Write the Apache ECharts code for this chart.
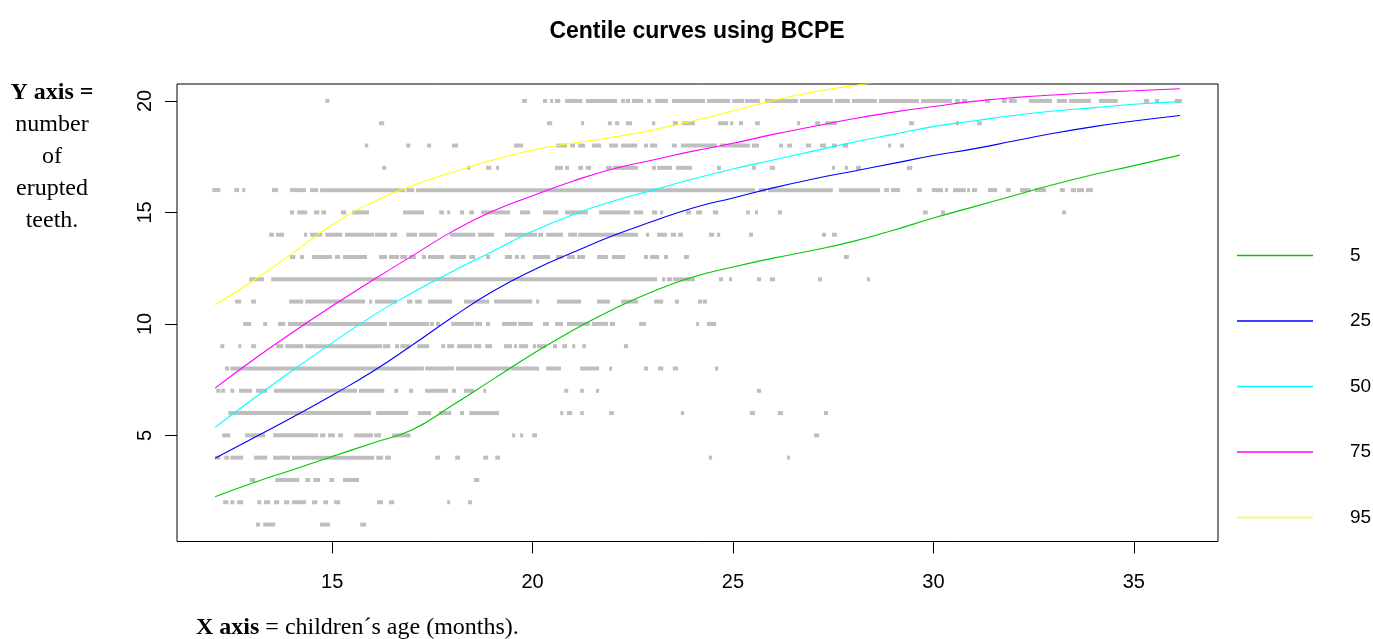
<!DOCTYPE html>
<html><head><meta charset="utf-8">
<script src="https://cdn.jsdelivr.net/npm/echarts@6/dist/echarts.min.js"></script>
<style>html,body{margin:0;padding:0;background:#fff}#c{width:1373px;height:639px}</style>
</head><body><div id="c"></div>
<script>
// ---- centile curves (age in months, number of erupted teeth) ----
const ages = [12.08,13,14,15,16,17,18,19,20,21,22,23,24,25,26,27,28,29,30,31,32,33,34,35,36.15];
const c5  = [2.25,2.85,3.45,4.05,4.65,5.25,6.35,7.5,8.65,9.7,10.65,11.45,12.1,12.55,12.95,13.3,13.7,14.2,14.75,15.25,15.75,16.25,16.7,17.1,17.57];
const c25 = [3.97,4.85,5.8,6.8,7.85,9.05,10.3,11.45,12.4,13.2,13.95,14.6,15.2,15.65,16.1,16.5,16.85,17.2,17.55,17.85,18.2,18.55,18.85,19.1,19.35];
const c50 = [5.36,6.6,7.9,9.15,10.35,11.4,12.35,13.25,14.15,14.9,15.5,16.0,16.5,16.95,17.35,17.75,18.15,18.5,18.85,19.1,19.35,19.55,19.7,19.85,19.97];
const c75 = [7.12,8.35,9.6,10.8,11.95,13.05,14.15,15.05,15.75,16.4,16.95,17.35,17.75,18.1,18.5,18.85,19.2,19.5,19.75,19.98,20.15,20.27,20.37,20.46,20.55];
const c95 = [10.86,11.9,13.15,14.45,15.45,16.2,16.8,17.35,17.8,18.1,18.37,18.7,19.1,19.55,20.02,20.4,20.68,20.95,21.2];
const centileNames = ['5','25','50','75','95'];
const centileColors = ['#00C800','#0000FF','#00FFFF','#FF00FF','#FFFF00'];
const xTicks = [15,20,25,30,35];
const yTicks = [5,10,15,20];

// ---- observed children: age ranges (months) covered by points at each tooth count ----
const seg20 = [[14.83,14.93],[19.74,19.86],[20.26,20.36],[20.44,20.51],[20.56,20.69],[20.81,21.24],[21.33,22.11],[22.21,22.31],[22.33,22.43],[22.48,22.76],[22.86,22.96],[23.06,23.38],[23.48,24.30],[24.35,24.93],[24.98,25.28],[25.30,25.67],[25.80,26.62],[26.67,27.49],[27.54,27.92],[27.97,28.59],[28.64,29.64],[29.69,30.46],[30.54,30.66],[30.71,30.84],[31.29,31.41],[31.71,31.83],[31.88,32.08],[32.38,32.96],[33.08,33.33],[33.38,33.93],[34.13,34.60],[35.25,35.38],[35.53,35.63],[36.02,36.20]];
const seg19 = [[16.17,16.30],[20.36,20.49],[21.21,21.28],[21.88,21.98],[22.06,22.16],[22.33,22.48],[22.98,23.06],[23.50,23.63],[23.73,24.05],[24.63,24.88],[24.93,25.00],[25.15,25.25],[25.55,25.67],[26.60,26.67],[27.05,27.17],[27.30,27.59],[29.39,29.52],[30.56,30.64],[31.09,31.21]];
const seg18 = [[15.82,15.90],[16.85,16.95],[17.37,17.47],[17.99,18.14],[19.54,19.76],[20.59,20.86],[20.94,21.06],[21.14,21.31],[21.48,21.71],[21.91,22.13],[22.21,22.61],[22.78,22.88],[22.93,23.11],[23.48,23.60],[23.70,24.60],[24.68,25.42],[25.47,25.65],[26.15,26.25],[26.35,26.47],[26.82,26.95],[27.17,27.32],[27.47,27.59],[27.74,27.87],[28.87,28.94],[29.17,29.27]];
const seg17 = [[16.25,16.35],[18.37,18.44],[18.84,18.97],[19.09,19.16],[20.56,20.76],[20.81,20.91],[21.14,21.26],[21.33,21.46],[21.83,21.98],[22.01,22.63],[22.98,23.08],[23.11,23.48],[23.58,23.98],[24.60,24.70],[25.47,25.57],[25.92,26.05],[27.47,27.54],[27.79,27.87],[28.07,28.19],[29.34,29.47]];
const seg16 = [[12.01,12.21],[12.56,12.68],[12.76,12.83],[13.50,13.65],[13.95,14.35],[14.45,14.65],[14.70,16.82],[16.85,17.05],[17.09,25.55],[25.65,25.82],[25.87,27.49],[27.64,28.67],[28.77,28.89],[28.94,29.17],[29.59,29.71],[29.96,30.24],[30.29,30.36],[30.49,30.81],[30.84,30.91],[30.96,31.09],[31.36,31.59],[31.81,31.93],[32.16,32.43],[32.53,32.81],[33.16,33.28],[33.43,33.56],[33.58,33.76],[33.81,33.98]];
const seg15 = [[13.95,14.05],[14.13,14.38],[14.55,14.68],[14.73,14.85],[15.22,15.35],[15.50,15.92],[16.77,17.29],[17.67,17.79],[17.87,17.94],[18.19,18.29],[18.42,18.54],[18.72,19.44],[19.69,19.94],[20.26,20.64],[20.81,21.38],[21.66,22.43],[22.53,22.76],[22.98,23.11],[23.18,23.26],[23.83,23.95],[24.08,24.23],[24.50,24.63],[25.33,25.42],[25.55,25.62],[26.12,26.22],[29.74,29.86],[30.19,30.29],[33.21,33.31]];
const seg14 = [[13.43,13.55],[13.60,13.80],[14.30,14.38],[14.45,14.75],[14.83,15.25],[15.32,16.05],[16.07,16.37],[16.45,16.62],[16.85,17.12],[17.17,17.62],[17.94,18.57],[18.64,19.04],[19.31,20.11],[20.14,20.26],[20.34,20.76],[20.89,21.11],[21.14,22.63],[22.83,22.91],[23.11,23.35],[23.45,23.58],[23.63,23.75],[24.40,24.53],[24.60,24.68],[25.40,25.50],[27.22,27.32],[27.47,27.59]];
const seg13 = [[13.95,14.08],[14.20,14.30],[14.50,15.00],[15.07,15.20],[15.27,15.87],[16.17,16.37],[16.42,16.67],[16.70,16.87],[16.92,17.09],[17.24,17.34],[17.39,17.79],[17.94,18.34],[18.42,18.57],[18.84,18.94],[19.31,19.49],[19.56,19.66],[19.71,19.81],[20.01,20.44],[20.59,20.76],[20.86,21.06],[21.11,21.31],[21.61,21.88],[21.98,22.31],[22.78,22.88],[22.93,23.16],[23.28,23.38],[23.78,23.90],[27.77,27.89]];
const seg12 = [[12.93,13.30],[13.48,23.11],[23.23,23.31],[23.35,23.48],[23.50,24.05],[24.65,24.75],[24.90,24.98],[25.60,25.70],[25.92,26.05],[27.12,27.22],[28.34,28.42]];
const seg11 = [[12.58,12.73],[12.98,13.10],[13.93,14.28],[14.33,15.82],[15.92,16.00],[16.07,16.62],[16.87,17.00],[17.07,17.24],[17.39,17.99],[18.29,18.92],[19.04,19.99],[20.09,20.16],[20.61,21.21],[21.61,21.93],[22.21,22.63],[23.03,23.26],[23.55,23.65],[24.13,24.23],[24.25,24.35]];
const seg10 = [[12.78,12.98],[13.28,13.38],[13.65,13.83],[13.90,16.37],[16.42,17.42],[17.44,17.54],[17.59,17.69],[17.97,18.54],[18.57,18.74],[18.84,18.94],[19.24,19.61],[19.64,20.01],[20.26,20.41],[20.56,20.76],[20.86,21.43],[21.48,21.88],[21.93,22.06],[22.66,22.83],[24.08,24.15],[24.35,24.58]];
const seg9 = [[12.21,12.31],[12.66,12.73],[12.98,13.10],[13.60,13.78],[13.83,14.28],[14.33,16.25],[16.27,16.45],[16.57,16.67],[16.70,16.95],[17.12,17.42],[17.72,17.82],[17.87,18.04],[18.12,18.49],[18.54,18.72],[18.82,18.99],[19.29,19.49],[19.54,19.61],[19.66,19.89],[20.01,20.09],[20.11,20.34],[20.51,20.61],[20.74,20.86],[20.99,21.04],[21.24,21.33],[22.28,22.38]];
const seg8 = [[12.33,12.43],[12.46,17.29],[17.32,18.04],[18.09,19.44],[19.46,20.16],[20.34,20.71],[21.19,21.66],[21.91,21.98],[22.78,22.88],[23.13,23.26],[23.50,23.63],[24.55,24.63]];
const seg7 = [[12.11,12.21],[12.23,12.33],[12.46,12.56],[12.68,13.00],[13.10,13.38],[13.55,15.62],[15.67,16.30],[16.55,16.65],[16.92,17.02],[17.32,17.89],[17.99,18.09],[18.29,18.54],[18.77,18.84],[20.79,20.89],[21.19,21.28],[21.58,21.66],[25.60,25.70]];
const seg6 = [[12.41,15.97],[16.10,16.90],[17.14,17.47],[17.67,17.97],[18.19,18.29],[18.42,19.16],[20.69,20.76],[20.86,20.99],[21.19,21.28],[21.91,22.03],[23.70,23.78],[25.42,25.55],[26.12,26.25],[27.27,27.37]];
const seg5 = [[12.26,12.46],[12.83,13.33],[13.53,14.65],[14.70,14.83],[14.90,15.07],[15.15,15.27],[15.55,16.02],[16.05,16.22],[16.50,16.95],[19.49,19.56],[19.69,19.76],[19.99,20.11],[27.02,27.15]];
const seg4 = [[12.08,12.21],[12.31,12.43],[12.46,12.78],[13.05,13.38],[13.53,13.95],[14.00,16.05],[16.10,16.27],[16.32,16.47],[17.57,17.69],[18.07,18.19],[18.77,18.89],[19.07,19.19],[24.40,24.48],[26.35,26.42]];
const seg3 = [[12.95,13.08],[13.58,14.18],[14.33,14.45],[14.53,14.70],[14.93,15.05],[15.27,15.67],[18.54,18.67]];
const seg2 = [[12.28,12.41],[12.46,12.56],[12.63,12.78],[13.13,13.23],[13.30,13.45],[13.55,13.68],[13.80,13.93],[14.00,14.35],[14.50,14.63],[14.78,14.90],[15.05,15.20],[16.12,16.27],[16.42,16.55],[17.87,17.94],[18.39,18.49]];
const seg1 = [[13.10,13.20],[13.28,13.58],[14.70,14.95],[15.70,15.85]];

const rowSegs = [seg1,seg2,seg3,seg4,seg5,seg6,seg7,seg8,seg9,seg10,seg11,seg12,seg13,seg14,seg15,seg16,seg17,seg18,seg19,seg20];
const obs = [];
rowSegs.forEach((segs, i) => segs.forEach(s => obs.push([s[0], s[1], i + 1])));

const curves = [c5, c25, c50, c75, c95];
const lineSeries = curves.map((vals, k) => ({
  type: 'line', name: centileNames[k],
  data: vals.map((v, i) => [ages[i], v]),
  showSymbol: false, symbol: 'none', smooth: 0.5, clip: true,
  itemStyle: { color: centileColors[k] },
  lineStyle: { color: centileColors[k], width: 1.1 },
  z: 3, silent: true, animation: false
}));

const chart = echarts.init(document.getElementById('c'), null, { renderer: 'canvas' });
chart.setOption({
  backgroundColor: '#fff',
  animation: false,
  title: {
    text: 'Centile curves using BCPE', left: 697, top: 20, padding: 0, textAlign: 'center',
    textStyle: { fontFamily: 'Liberation Sans', fontSize: 23, fontWeight: 'bold', color: '#000' }
  },
  legend: {
    orient: 'vertical', left: 1237, top: 245.5, padding: 0,
    itemWidth: 76, itemHeight: 1.5, itemGap: 45.5, icon: 'rect', selectedMode: false,
    itemStyle: { borderWidth: 0 },
    textStyle: { fontFamily: 'Liberation Sans', fontSize: 19, color: '#000', lineHeight: 20, padding: [0, 0, 0, 32] },
    data: centileNames
  },
  grid: { left: 177, right: 155, top: 84, bottom: 97.5, show: true, borderColor: '#000', borderWidth: 1, outerBoundsMode: 'none' },
  xAxis: {
    type: 'value', min: 11.13, max: 37.1,
    axisLine: { show: false }, splitLine: { show: false },
    axisTick: { show: true, length: 12, customValues: xTicks, lineStyle: { color: '#000' } },
    axisLabel: { customValues: xTicks, margin: 31, fontFamily: 'Liberation Sans', fontSize: 20, color: '#000' }
  },
  yAxis: {
    type: 'value', min: 0.24, max: 20.76,
    axisLine: { show: false }, splitLine: { show: false },
    axisTick: { show: true, length: 12, customValues: yTicks, lineStyle: { color: '#000' } },
    axisLabel: { customValues: yTicks, rotate: 90, margin: 22, fontFamily: 'Liberation Sans', fontSize: 20, color: '#000' }
  },
  graphic: [
    { type: 'text', x: 52, y: 77, style: {
      text: '{b|Y axis =}\nnumber\nof\nerupted\nteeth.',
      rich: { b: { fontFamily: 'Liberation Serif', fontWeight: 'bold', fontSize: 24, lineHeight: 32, fill: '#000' } },
      fontFamily: 'Liberation Serif', fontSize: 24, lineHeight: 32, fill: '#000', align: 'center', verticalAlign: 'top' } },
    { type: 'text', x: 196, y: 628, style: {
      text: '{b|X axis} = children´s age (months).',
      rich: { b: { fontFamily: 'Liberation Serif', fontWeight: 'bold', fontSize: 24, fill: '#000' } },
      fontFamily: 'Liberation Serif', fontSize: 24, fill: '#000', align: 'left', verticalAlign: 'middle' } }
  ],
  series: [
    {
      type: 'custom', name: 'observed', data: obs, encode: { x: [0, 1], y: 2 }, z: 1, silent: true, animation: false,
      renderItem: function (params, api) {
        const p0 = api.coord([api.value(0), api.value(2)]);
        const p1 = api.coord([api.value(1), api.value(2)]);
        return { type: 'rect', shape: { x: p0[0], y: p0[1] - 2, width: Math.max(p1[0] - p0[0], 3), height: 4 },
                 style: { fill: '#BEBEBE' } };
      }
    }
  ].concat(lineSeries)
});
</script>
</body></html>
